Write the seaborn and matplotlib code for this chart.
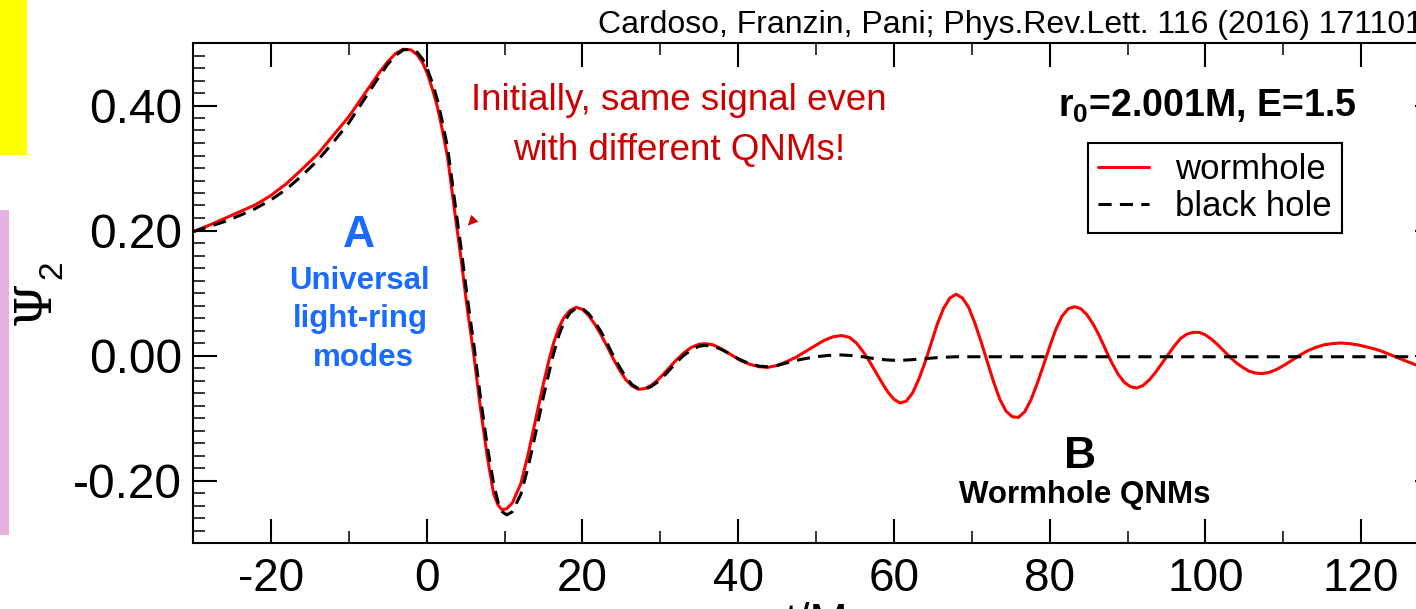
import matplotlib
matplotlib.use('Agg')
import matplotlib.pyplot as plt
import seaborn as sns
import pandas as pd
from matplotlib.ticker import MultipleLocator, FormatStrFormatter
from matplotlib.patches import Rectangle

# ---------------- data ----------------
t_wormhole = [-30, -28, -26, -24, -22, -20, -18, -16, -14, -12, -10, -8, -6, -5, -4, -3, -2,
              -1.2, -0.5, 0.1, 0.8, 1.4, 2.0, 2.7, 3.5, 4.4, 5.2, 6.1, 6.9, 7.8, 8.6, 9.2, 9.7,
              10.3, 11.0, 12.1, 13.0, 13.6, 14.3, 15.0, 15.7, 16.3, 17.0, 17.6, 18.4, 19.2, 20.0,
              20.8, 21.6, 22.4, 23.2, 24.0, 24.8, 25.6, 26.4, 27.2, 28.0, 28.8, 29.6, 30.4, 31.2,
              32.0, 33.0, 34.0, 35.0, 35.8, 36.8, 37.8, 39.0, 40.3, 41.5, 42.7, 43.8, 45.0, 46.2,
              47.4, 48.6, 49.8, 51.0, 52.2, 53.3, 54.3, 55.2, 56.0, 56.8, 57.6, 58.4, 59.2, 60.0,
              60.8, 61.6, 62.4, 63.2, 64.0, 64.8, 65.6, 66.4, 67.2, 68.0, 68.8, 69.6, 70.4, 71.2,
              72.0, 72.8, 73.6, 74.4, 75.2, 76.0, 76.8, 77.6, 78.4, 79.2, 80.0, 80.8, 81.6, 82.4,
              83.2, 84.0, 84.8, 85.6, 86.4, 87.2, 88.0, 88.8, 89.6, 90.4, 91.2, 92.0, 92.8, 93.6,
              94.4, 95.2, 96.0, 96.8, 97.6, 98.4, 99.2, 100.0, 100.8, 101.6, 102.4, 103.2, 104.0,
              104.8, 105.6, 106.4, 107.3, 108.2, 109.2, 110.2, 111.2, 112.2, 113.2, 114.2, 115.2,
              116.3, 117.4, 118.5, 119.6, 120.6, 121.6, 122.6, 123.6, 124.6, 125.6, 126.6, 127.6,
              128.6, 130.0]
psi_wormhole = [0.198, 0.208, 0.219, 0.230, 0.241, 0.256, 0.275, 0.298, 0.322, 0.352, 0.382, 0.418,
                0.454, 0.470, 0.483, 0.490, 0.489, 0.481, 0.468, 0.451, 0.424, 0.397, 0.362, 0.317,
                0.240, 0.157, 0.077, -0.003, -0.083, -0.163, -0.221, -0.240, -0.247, -0.245, -0.236,
                -0.205, -0.160, -0.125, -0.085, -0.045, -0.008, 0.020, 0.045, 0.060, 0.072, 0.077,
                0.074, 0.064, 0.050, 0.033, 0.014, -0.006, -0.024, -0.039, -0.049, -0.054, -0.053,
                -0.048, -0.040, -0.030, -0.019, -0.008, 0.004, 0.013, 0.018, 0.019, 0.017, 0.011,
                0.002, -0.008, -0.014, -0.018, -0.019, -0.016, -0.010, -0.003, 0.006, 0.015, 0.024,
                0.030, 0.032, 0.029, 0.020, 0.007, -0.008, -0.025, -0.042, -0.058, -0.070, -0.076,
                -0.073, -0.060, -0.038, -0.011, 0.020, 0.051, 0.076, 0.092, 0.098, 0.092, 0.077,
                0.052, 0.022, -0.010, -0.042, -0.070, -0.089, -0.098, -0.099, -0.090, -0.071, -0.045,
                -0.016, 0.014, 0.042, 0.063, 0.075, 0.078, 0.075, 0.065, 0.050, 0.031, 0.009, -0.012,
                -0.030, -0.043, -0.050, -0.052, -0.048, -0.039, -0.027, -0.013, 0.001, 0.015, 0.027,
                0.034, 0.037, 0.037, 0.033, 0.026, 0.017, 0.007, -0.003, -0.012, -0.019, -0.025,
                -0.028, -0.029, -0.027, -0.022, -0.015, -0.007, 0.001, 0.008, 0.013, 0.017, 0.019,
                0.020, 0.019, 0.017, 0.014, 0.011, 0.007, 0.002, -0.003, -0.008, -0.013, -0.018,
                -0.023, -0.030]

t_blackhole = [-30, -28, -26, -24, -22, -20, -18, -16, -14, -12, -10, -8, -6, -5, -4, -3, -2,
               -1.2, -0.5, 0.1, 0.8, 1.4, 2.0, 2.7, 3.5, 4.4, 5.2, 6.1, 6.9, 7.8, 8.6, 9.2, 9.7,
               10.3, 11.0, 12.1, 13.0, 13.6, 14.3, 15.0, 15.7, 16.3, 17.0, 17.6, 18.4, 19.2, 20.0,
               20.8, 21.6, 22.4, 23.2, 24.0, 24.8, 25.6, 26.4, 27.2, 28.0, 28.8, 29.6, 30.4, 31.2,
               32.0, 33.0, 34.0, 35.0, 35.8, 36.8, 37.8, 39.0, 40.3, 41.5, 42.7, 43.8, 45.0, 46.2,
               47.4, 48.6, 50.0, 51.5, 53.0, 54.5, 56.0, 57.5, 59.0, 60.5, 62.0, 64.0, 66.0, 68.0,
               72.0, 76.0, 80.0, 85.0, 90.0, 95.0, 100.0, 105.0, 110.0, 115.0, 120.0, 125.0, 130.0]
psi_blackhole = [0.198, 0.206, 0.214, 0.224, 0.235, 0.249, 0.266, 0.288, 0.312, 0.341, 0.372, 0.410,
                 0.448, 0.466, 0.480, 0.489, 0.490, 0.485, 0.474, 0.458, 0.434, 0.408, 0.375, 0.332,
                 0.257, 0.174, 0.095, 0.014, -0.066, -0.146, -0.205, -0.236, -0.250, -0.255, -0.250,
                 -0.222, -0.180, -0.147, -0.107, -0.066, -0.028, 0.003, 0.033, 0.052, 0.068, 0.076,
                 0.075, 0.067, 0.054, 0.038, 0.019, -0.001, -0.019, -0.035, -0.047, -0.053, -0.054,
                 -0.050, -0.043, -0.034, -0.023, -0.012, 0.000, 0.009, 0.015, 0.016, 0.015, 0.010,
                 0.002, -0.007, -0.013, -0.017, -0.018, -0.016, -0.012, -0.008, -0.005, -0.002,
                 0.000, 0.001, 0.000, -0.002, -0.005, -0.007, -0.008, -0.007, -0.005, -0.003, -0.002,
                 -0.002, -0.002, -0.002, -0.002, -0.002, -0.002, -0.002, -0.002, -0.002, -0.002,
                 -0.002, -0.002, -0.002]

series_labels = ['wormhole', 'black hole']
x_ticks = [-20, 0, 20, 40, 60, 80, 100, 120]
y_ticks = [-0.20, 0.00, 0.20, 0.40]

# ---------------- style ----------------
sns.set_theme(style='ticks')
plt.rcParams['font.family'] = ['Liberation Sans', 'DejaVu Sans']
plt.rcParams['axes.unicode_minus'] = False
plt.rcParams['text.color'] = 'black'
plt.rcParams['axes.labelcolor'] = 'black'
plt.rcParams['legend.labelcolor'] = 'black'
plt.rcParams['mathtext.fontset'] = 'custom'
plt.rcParams['mathtext.rm'] = 'Liberation Sans:bold'
plt.rcParams['mathtext.it'] = 'Liberation Sans:bold'
plt.rcParams['mathtext.bf'] = 'Liberation Sans:bold'

W, H = 1416, 609
fig = plt.figure(figsize=(W / 100, H / 100), dpi=100)
fig.patch.set_facecolor('white')

def fx(px):
    return px / W

def fy(py):
    return 1 - py / H

ax = fig.add_axes([fx(193), fy(543), (1439 - 193) / W, (543 - 43) / H])
ax.set_facecolor('white')

df_wh = pd.DataFrame({'t': t_wormhole, 'psi': psi_wormhole})
df_bh = pd.DataFrame({'t': t_blackhole, 'psi': psi_blackhole})

sns.lineplot(data=df_wh, x='t', y='psi', color='#FF0000', lw=2.2, label=series_labels[0],
             ax=ax, zorder=3)
sns.lineplot(data=df_bh, x='t', y='psi', color='black', lw=2.2, label=series_labels[1],
             ax=ax, zorder=4)
ax.lines[1].set_dashes((4.3, 2.7))

ax.set_xlim(-30, 130)
ax.set_ylim(-0.30, 0.50)
ax.set_xticks(x_ticks)
ax.set_yticks(y_ticks)
ax.xaxis.set_minor_locator(MultipleLocator(10))
ax.yaxis.set_minor_locator(MultipleLocator(0.02))
ax.yaxis.set_major_formatter(FormatStrFormatter('%.2f'))

for s in ax.spines.values():
    s.set_linewidth(1.5)
    s.set_color('black')

ax.tick_params(which='major', direction='in', length=17.5, width=1.5, top=True, right=True,
               colors='black')
ax.tick_params(which='minor', direction='in', length=8.5, width=1.1, top=True, right=True,
               colors='black')
ax.tick_params(axis='x', which='major', labelsize=33, pad=10)
ax.tick_params(axis='y', which='major', labelsize=34.5, pad=8)

ax.set_xlabel('t/M', fontsize=33, labelpad=1)
ax.set_ylabel('')

# legend
leg = ax.legend(loc='upper left', bbox_to_anchor=(fx(1088), fy(143)),
                bbox_transform=fig.transFigure, frameon=True, fancybox=False,
                edgecolor='black', framealpha=1, fontsize=25, handlelength=1.45,
                handletextpad=0.75, borderpad=0.3, labelspacing=0.1, borderaxespad=0)
leg.get_frame().set_linewidth(1.5)
for txt in leg.get_texts():
    txt.set_color('black')
for lh in leg.get_lines():
    lh.set_linewidth(2.2)
leg.get_lines()[1].set_dashes((4.3, 2.7))

# y label: Psi_2
fig.text(fx(36), fy(303), 'Ψ', rotation=90, fontsize=36, family=['DejaVu Serif'],
         ha='center', va='center', color='black')
fig.text(fx(53), fy(270), '2', rotation=90, fontsize=24, ha='center', va='center',
         color='black')

# citation
fig.text(fx(598), fy(33), 'Cardoso, Franzin, Pani; Phys.Rev.Lett. 116 (2016) 171101',
         fontsize=23, ha='left', va='baseline', color='black')

# red annotation
red_txt = '#CC0000'
fig.text(fx(679), fy(110), 'Initially, same signal even', fontsize=26.5, color=red_txt,
         ha='center', va='baseline')
fig.text(fx(679), fy(160), 'with different QNMs!', fontsize=26.5, color=red_txt,
         ha='center', va='baseline')
ax.annotate('', xy=(5.3, 0.208), xytext=(6.0, 0.217),
            arrowprops=dict(arrowstyle='-|>', color=red_txt, lw=0.5,
                            mutation_scale=16, shrinkA=0, shrinkB=0))

# blue annotation
blue = '#1A6BFF'
fig.text(fx(359), fy(247), 'A', fontsize=32, fontweight='bold', color=blue,
         ha='center', va='baseline')
fig.text(fx(359), fy(289), 'Universal', fontsize=22.5, fontweight='bold', color=blue,
         ha='center', va='baseline')
fig.text(fx(360), fy(327), 'light-ring', fontsize=22.5, fontweight='bold', color=blue,
         ha='center', va='baseline')
fig.text(fx(363), fy(366), 'modes', fontsize=22.5, fontweight='bold', color=blue,
         ha='center', va='baseline')

# black annotation
fig.text(fx(1080), fy(468), 'B', fontsize=32, fontweight='bold', color='black',
         ha='center', va='baseline')
fig.text(fx(1085), fy(503), 'Wormhole QNMs', fontsize=22.5, fontweight='bold', color='black',
         ha='center', va='baseline')

# parameters
fig.text(fx(1058), fy(117), r'r$_{0}$=2.001M, E=1.5', fontsize=27, fontweight='bold',
         color='black', ha='left', va='baseline')

# side colour blocks
fig.add_artist(Rectangle((0, fy(155)), fx(27), 155 / H, transform=fig.transFigure,
                         facecolor='#FFFF00', edgecolor='none'))
fig.add_artist(Rectangle((0, fy(535)), fx(9), (535 - 210) / H, transform=fig.transFigure,
                         facecolor='#E6B0E0', edgecolor='none'))

fig.savefig('out.png', dpi=100)
